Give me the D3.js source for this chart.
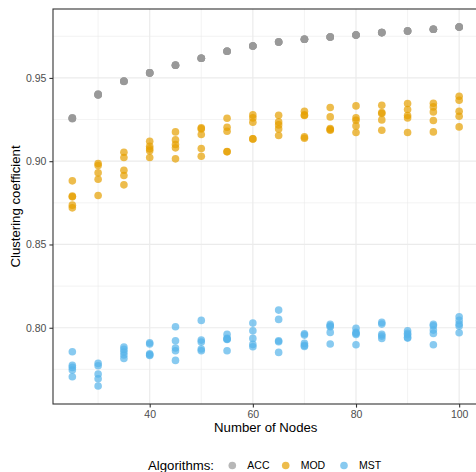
<!DOCTYPE html>
<html>
<head>
<meta charset="utf-8">
<script src="https://cdn.jsdelivr.net/npm/d3@7"></script>
<style>
  html, body { margin: 0; padding: 0; background: #fff; }
  svg { display: block; font-family: "Liberation Sans", Arial, Helvetica, sans-serif; }
</style>
</head>
<body>
<svg id="chart" width="476" height="472"></svg>
<script>
// Network sizes tested
const nodes = [25, 30, 35, 40, 45, 50, 55, 60, 65, 70, 75, 80, 85, 90, 95, 100];

// Clustering coefficient per run, one inner list per network size
const accValues = [
  [0.9258, 0.9261, 0.9255, 0.9259, 0.9256],
  [0.9400, 0.9403, 0.9397, 0.9401, 0.9398],
  [0.9480, 0.9481, 0.9479, 0.9480, 0.9480],
  [0.9530, 0.9531, 0.9529, 0.9530, 0.9530],
  [0.9576, 0.9577, 0.9576, 0.9576, 0.9576],
  [0.9618, 0.9618, 0.9618, 0.9618, 0.9618],
  [0.9660, 0.9660, 0.9660, 0.9660, 0.9660],
  [0.9692, 0.9692, 0.9692, 0.9692, 0.9692],
  [0.9716, 0.9716, 0.9716, 0.9716, 0.9716],
  [0.9732, 0.9732, 0.9732, 0.9732, 0.9732],
  [0.9746, 0.9746, 0.9746, 0.9746, 0.9746],
  [0.9758, 0.9758, 0.9758, 0.9758, 0.9758],
  [0.9772, 0.9772, 0.9772, 0.9772, 0.9772],
  [0.9782, 0.9782, 0.9782, 0.9782, 0.9782],
  [0.9792, 0.9792, 0.9792, 0.9792, 0.9792],
  [0.9806, 0.9806, 0.9806, 0.9806, 0.9806]
];

const modValues = [
  [0.8882, 0.8790, 0.8786, 0.8736, 0.8720],
  [0.8986, 0.8974, 0.8930, 0.8892, 0.8794],
  [0.9054, 0.9022, 0.8946, 0.8914, 0.8858],
  [0.9120, 0.9090, 0.9074, 0.9062, 0.9022],
  [0.9176, 0.9128, 0.9100, 0.9080, 0.9014],
  [0.9200, 0.9194, 0.9160, 0.9076, 0.9030],
  [0.9258, 0.9204, 0.9180, 0.9058, 0.9056],
  [0.9278, 0.9260, 0.9234, 0.9134, 0.9134],
  [0.9276, 0.9236, 0.9218, 0.9194, 0.9154],
  [0.9300, 0.9278, 0.9274, 0.9146, 0.9138],
  [0.9322, 0.9266, 0.9196, 0.9190, 0.9186],
  [0.9332, 0.9260, 0.9246, 0.9212, 0.9172],
  [0.9336, 0.9292, 0.9286, 0.9248, 0.9186],
  [0.9346, 0.9310, 0.9274, 0.9260, 0.9172],
  [0.9348, 0.9326, 0.9296, 0.9244, 0.9176],
  [0.9390, 0.9366, 0.9300, 0.9270, 0.9206]
];

const mstValues = [
  [0.7856, 0.7774, 0.7762, 0.7746, 0.7706],
  [0.7786, 0.7772, 0.7722, 0.7694, 0.7650],
  [0.7884, 0.7870, 0.7854, 0.7836, 0.7816],
  [0.7910, 0.7902, 0.7844, 0.7838, 0.7834],
  [0.8006, 0.7922, 0.7878, 0.7862, 0.7804],
  [0.8044, 0.7926, 0.7914, 0.7872, 0.7862],
  [0.7960, 0.7936, 0.7932, 0.7930, 0.7862],
  [0.8028, 0.7982, 0.7936, 0.7900, 0.7886],
  [0.8106, 0.8050, 0.7922, 0.7916, 0.7852],
  [0.7964, 0.7956, 0.7906, 0.7894, 0.7888],
  [0.8020, 0.8012, 0.8006, 0.7972, 0.7902],
  [0.7996, 0.7972, 0.7966, 0.7960, 0.7898],
  [0.8032, 0.8022, 0.7960, 0.7950, 0.7936],
  [0.7982, 0.7966, 0.7958, 0.7942, 0.7938],
  [0.8020, 0.8012, 0.7986, 0.7966, 0.7898],
  [0.8066, 0.8044, 0.8022, 0.8010, 0.7970]
];

const algorithms = ["ACC", "MOD", "MST"];
const algoColors = ["#999999", "#E69F00", "#56B4E9"];

const xTicks = [40, 60, 80, 100];
const xMinorTicks = [30, 50, 70, 90];
const yTicks = [0.80, 0.85, 0.90, 0.95];
const yMinorTicks = [0.775, 0.825, 0.875, 0.925, 0.975];

// Long-format rows for plotting
const seriesValues = [accValues, modValues, mstValues];
const rows = [];
algorithms.forEach((alg, ai) => {
  seriesValues[ai].forEach((vals, ni) => {
    vals.forEach(v => rows.push({ alg, n: nodes[ni], v }));
  });
});

const svg = d3.select("#chart");
const panel = { left: 53, top: 9, right: 478.5, bottom: 404 };

// Continuous scales with 5% padding on each side
function padded(ext) {
  const d = (ext[1] - ext[0]) * 0.05;
  return [ext[0] - d, ext[1] + d];
}
const x = d3.scaleLinear()
  .domain(padded(d3.extent(nodes)))
  .range([panel.left, panel.right]);
const y = d3.scaleLinear()
  .domain(padded(d3.extent(rows, r => r.v)))
  .range([panel.bottom, panel.top]);
const color = d3.scaleOrdinal().domain(algorithms).range(algoColors);

// Panel grid
const grid = svg.append("g");
grid.selectAll(".xminor").data(xMinorTicks).join("line")
  .attr("x1", d => x(d)).attr("x2", d => x(d))
  .attr("y1", panel.top).attr("y2", panel.bottom)
  .attr("stroke", "#EBEBEB").attr("stroke-width", 0.6);
grid.selectAll(".yminor").data(yMinorTicks).join("line")
  .attr("y1", d => y(d)).attr("y2", d => y(d))
  .attr("x1", panel.left).attr("x2", panel.right)
  .attr("stroke", "#EBEBEB").attr("stroke-width", 0.6);
grid.selectAll(".xmajor").data(xTicks).join("line")
  .attr("x1", d => x(d)).attr("x2", d => x(d))
  .attr("y1", panel.top).attr("y2", panel.bottom)
  .attr("stroke", "#EBEBEB").attr("stroke-width", 1.2);
grid.selectAll(".ymajor").data(yTicks).join("line")
  .attr("y1", d => y(d)).attr("y2", d => y(d))
  .attr("x1", panel.left).attr("x2", panel.right)
  .attr("stroke", "#EBEBEB").attr("stroke-width", 1.2);

// Points
svg.append("g").selectAll("circle").data(rows).join("circle")
  .attr("cx", d => x(d.n))
  .attr("cy", d => y(d.v))
  .attr("r", 3.8)
  .attr("fill", d => color(d.alg))
  .attr("fill-opacity", 0.7);

// Panel border
svg.append("rect")
  .attr("x", panel.left).attr("y", panel.top)
  .attr("width", panel.right - panel.left).attr("height", panel.bottom - panel.top)
  .attr("fill", "none").attr("stroke", "#333333").attr("stroke-width", 1.1);

// Axes
const xAxis = svg.append("g")
  .attr("transform", `translate(0,${panel.bottom})`)
  .call(d3.axisBottom(x).tickValues(xTicks).tickSize(3.6).tickPadding(3).tickFormat(d3.format("d")));
const yAxis = svg.append("g")
  .attr("transform", `translate(${panel.left},0)`)
  .call(d3.axisLeft(y).tickValues(yTicks).tickSize(3.6).tickPadding(3).tickFormat(d3.format(".2f")));
[xAxis, yAxis].forEach(a => {
  a.select(".domain").remove();
  a.selectAll(".tick line").attr("stroke", "#333333").attr("stroke-width", 1.1);
  a.selectAll(".tick text")
    .attr("fill", "#4D4D4D")
    .style("font-size", "10.5px")
    .style("font-family", "Liberation Sans, Arial, sans-serif");
});

// Axis titles
svg.append("text")
  .attr("x", (panel.left + panel.right) / 2)
  .attr("y", 432)
  .attr("text-anchor", "middle")
  .style("font-size", "13.2px")
  .attr("fill", "#000")
  .text("Number of Nodes");
svg.append("text")
  .attr("transform", `translate(19.5,${(panel.top + panel.bottom) / 2}) rotate(-90)`)
  .attr("text-anchor", "middle")
  .style("font-size", "13.2px")
  .attr("fill", "#000")
  .text("Clustering coefficient");

// Legend along the bottom
const legend = svg.append("g").attr("transform", "translate(0,465.5)");
legend.append("text")
  .attr("x", 148).attr("y", 4.4)
  .style("font-size", "13.2px")
  .attr("fill", "#000")
  .text("Algorithms:");
const keyX = [232.3, 285.7, 344];
const items = legend.selectAll(".item").data(algorithms).join("g")
  .attr("transform", (d, i) => `translate(${keyX[i]},0)`);
items.append("circle")
  .attr("r", 3.8)
  .attr("fill", d => color(d))
  .attr("fill-opacity", 0.7);
items.append("text")
  .attr("x", 15)
  .attr("y", 3.7)
  .style("font-size", "10.5px")
  .attr("fill", "#000")
  .text(d => d);
</script>
</body>
</html>
